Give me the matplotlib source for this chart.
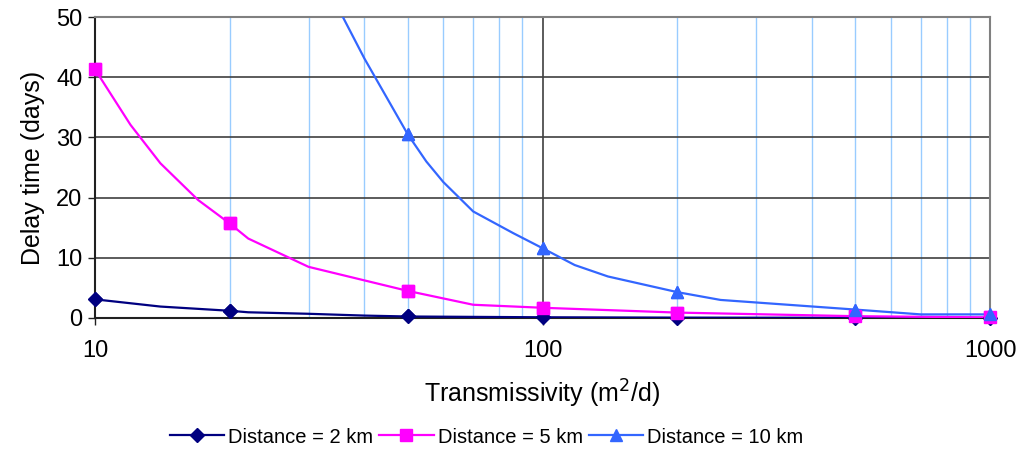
import matplotlib
matplotlib.use("Agg")
import matplotlib.pyplot as plt
from matplotlib.ticker import FixedLocator, NullFormatter, FixedFormatter

plt.rcParams['font.family'] = ['Liberation Sans', 'DejaVu Sans']

# ---- data ----
marked_T = [10, 20, 50, 100, 200, 500, 1000]

T_2km = [10, 14, 20, 22, 30, 40, 50, 100, 200, 500, 1000]
D_2km = [3.1, 1.9, 1.2, 0.95, 0.7, 0.4, 0.25, 0.12, 0.06, 0.03, 0.01]

T_5km = [10, 12, 14, 17, 20, 22, 30, 50, 70, 100, 200, 500, 1000]
D_5km = [41.3, 32.1, 25.7, 19.6, 15.7, 13.2, 8.5, 4.5, 2.2, 1.7, 0.9, 0.3, 0.1]

T_10km = [30, 40, 50, 55, 60, 70, 86, 100, 118, 140, 200, 250, 500, 700, 1000]
D_10km = [61.0, 43.1, 30.5, 26.0, 22.6, 17.7, 14.1, 11.6, 8.8, 6.9, 4.3, 3.0, 1.4, 0.6, 0.6]

labels = ["Distance = 2 km", "Distance = 5 km", "Distance = 10 km"]
colors = ["#000080", "#FF00FF", "#3366FF"]
markers = ["D", "s", "^"]
msizes = [7, 8, 9]

x_major = [10, 100, 1000]
x_major_labels = ["10", "100", "1000"]
x_minor = [20, 30, 40, 50, 60, 70, 80, 90, 200, 300, 400, 500, 600, 700, 800, 900]
y_ticks = [0, 10, 20, 30, 40, 50]

fig = plt.figure(figsize=(10.21, 4.51), dpi=100)
ax = fig.add_axes([95/1021, 1 - 318/451, (990-95)/1021, (318-17)/451])
ax.set_xscale('log')
ax.set_xlim(10, 1000)
ax.set_ylim(0, 50)

# grid lines
for xm in x_minor:
    ax.axvline(xm, color="#99CCFF", lw=1.0, zorder=1)
ax.axvline(100, color="#404040", lw=1.2, zorder=1)
for yv in y_ticks[1:-1]:
    ax.axhline(yv, color="#404040", lw=1.2, zorder=1)

series = [(T_2km, D_2km), (T_5km, D_5km), (T_10km, D_10km)]
for (T, D), lab, c, m, ms in zip(series, labels, colors, markers, msizes):
    idx = [i for i, t in enumerate(T) if t in marked_T]
    ax.plot(T, D, color=c, lw=1.6, marker=m, ms=ms, markevery=idx,
            label=lab, zorder=3)
    ax.plot([T[i] for i in idx], [D[i] for i in idx], ls='none', marker=m,
            ms=ms, color=c, clip_on=False, zorder=4)

for side in ['top', 'right']:
    ax.spines[side].set_color('#808080')
    ax.spines[side].set_linewidth(1.5)
for side in ['left', 'bottom']:
    ax.spines[side].set_color('#202020')
    ax.spines[side].set_linewidth(1.5)

ax.xaxis.set_major_locator(FixedLocator(x_major))
ax.xaxis.set_major_formatter(FixedFormatter(x_major_labels))
ax.xaxis.set_minor_locator(FixedLocator(x_minor))
ax.xaxis.set_minor_formatter(NullFormatter())
ax.tick_params(axis='x', which='minor', length=0)
ax.tick_params(axis='x', which='major', length=5, width=1, color='#202020',
               labelsize=17, pad=11)
ax.set_yticks(y_ticks)
ax.tick_params(axis='y', length=5, width=1, color='#202020', labelsize=17, pad=4)

ax.set_xlabel("Transmissivity (m$^2$/d)", fontsize=18, labelpad=11)
ax.set_ylabel("Delay time (days)", fontsize=18, labelpad=8)

leg = fig.legend(loc='center', bbox_to_anchor=(0.4765, 0.031), ncol=3,
                 frameon=False, fontsize=14.5, handlelength=2.7,
                 handletextpad=0.2, columnspacing=0.3)

fig.savefig("out.png", dpi=100)
